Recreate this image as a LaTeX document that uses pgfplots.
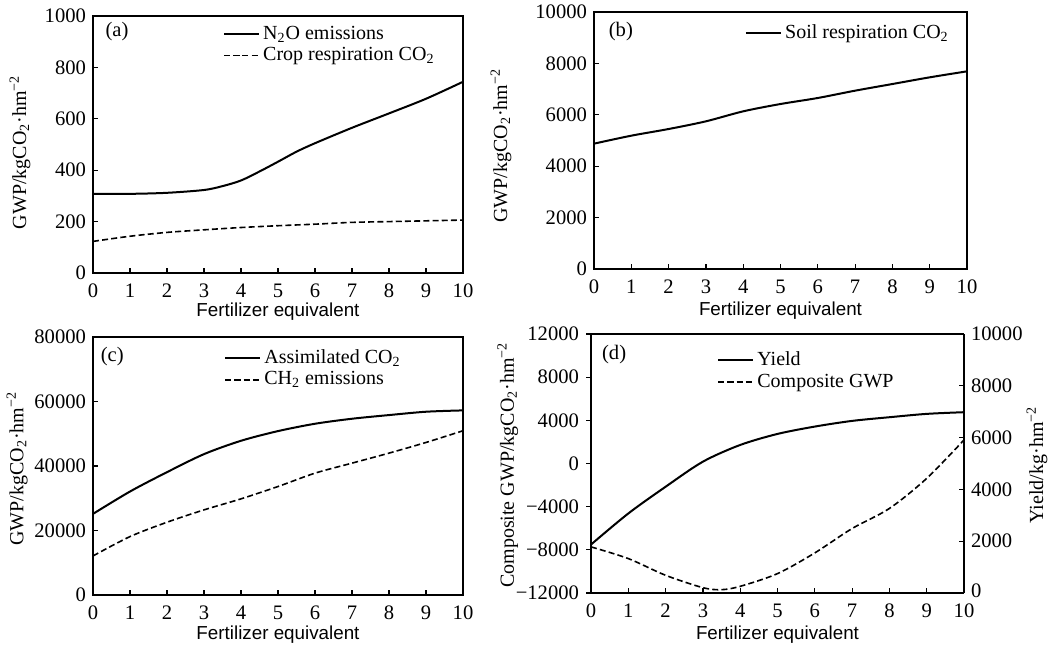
\documentclass[border=0pt]{standalone}
\usepackage{fontspec}
\setmainfont{Liberation Serif}
\newfontfamily\sansf{Liberation Sans}
\usepackage{pgfplots}
\pgfplotsset{compat=1.18}
\pgfplotsset{
  base/.style={
    scale only axis, xmin=0, xmax=10, xtick={0,...,10},
    tick align=inside, xtick pos=bottom, ytick pos=left,
    major tick length=2.5pt,
    /pgf/number format/assume math mode=true,
    /pgf/number format/1000 sep={},
    scaled y ticks=false,
    tick label style={font=\fontsize{10.3}{12}\selectfont},
    xticklabel style={yshift=-2pt},
    xlabel={Fertilizer equivalent},
    axis line style={line width=0.7pt},
    every tick/.style={black, line width=0.6pt},
    legend style={draw=none, fill=none, font=\fontsize{10}{11.5}\selectfont, inner sep=1pt, row sep=-1.5pt,
      /tikz/every even column/.append style={column sep=1pt}},
    legend cell align=left,
  },
  xlab/.style={xlabel style={font=\sansf\fontsize{9.4}{11}\selectfont, at={(axis description cs:0.5,#1)}, anchor=center}},
  ylab/.style 2 args={ylabel style={font=\fontsize{10}{12}\selectfont, at={(axis description cs:#1,#2)}, anchor=center, rotate=0}},
  sol/.style={black, line width=1pt, smooth},
  das/.style={black, line width=0.8pt, dash pattern=on 3pt off 1.6pt, smooth},
}
\begin{document}
\begin{tikzpicture}
\path[use as bounding box] (0,0) rectangle (526pt,-323pt);
% (a)
\begin{axis}[base, at={(46.5pt,-136.5pt)}, anchor=south west, width=185pt, height=128.5pt,
  ymin=0, ymax=1000, ytick={0,200,...,1000}, xlab=-0.152, ylab={-0.197}{0.47},
  ylabel={GWP/kgCO\textsubscript{2}·hm\textsuperscript{−2}},
  legend style={at={(0.345,0.985)}, anchor=north west}]
\addplot[sol] coordinates {(0,308) (1,308) (2,312) (3,323) (3.5,338) (4,360) (4.5,395) (5,433) (5.5,472) (6,505) (7,565) (8,621) (9,678) (10,744)};
\addlegendentry{N\textsubscript{2}O emissions}
\addplot[das] coordinates {(0,123) (1,143) (2,158) (3,168) (4,177) (5,184) (6,190) (7,197) (8,200) (9,203) (10,206)};
\addlegendentry{Crop respiration CO\textsubscript{2}}
\node[font=\fontsize{10.3}{12}\selectfont] at (axis description cs:0.065,0.94) {(a)};
\end{axis}
% (b)
\begin{axis}[base, at={(297pt,-134.5pt)}, anchor=south west, width=186.5pt, height=128.5pt,
  ymin=0, ymax=10000, ytick={0,2000,...,10000}, xlab=-0.163, ylab={-0.249}{0.48},
  ylabel={GWP/kgCO\textsubscript{2}·hm\textsuperscript{−2}},
  legend style={at={(0.968,0.975)}, anchor=north east}]
\addplot[sol] coordinates {(0,4877) (1,5188) (2,5447) (3,5746) (4,6135) (5,6420) (6,6654) (7,6939) (8,7198) (9,7458) (10,7691)};
\addlegendentry{Soil respiration CO\textsubscript{2}}
\node[font=\fontsize{10.3}{12}\selectfont] at (axis description cs:0.072,0.922) {(b)};
\end{axis}
% (c)
\begin{axis}[base, at={(46.5pt,-297.5pt)}, anchor=south west, width=185pt, height=129pt,
  ymin=0, ymax=80000, ytick={0,20000,...,80000}, xlab=-0.155, ylab={-0.205}{0.49},
  ylabel={GWP/kgCO\textsubscript{2}·hm\textsuperscript{−2}},
  legend style={at={(0.348,0.975)}, anchor=north west}]
\addplot[sol] coordinates {(0,25155) (1,32090) (2,38095) (3,43685) (4,47826) (5,50828) (6,53106) (7,54658) (8,55797) (9,56832) (10,57246)};
\addlegendentry{Assimilated CO\textsubscript{2}}
\addplot[das] coordinates {(0,12112) (1,18116) (2,22567) (3,26398) (4,29814) (5,33644) (6,37785) (7,40890) (8,43996) (9,47308) (10,50932)};
\addlegendentry{CH\textsubscript{2} emissions}
\node[font=\fontsize{10.3}{12}\selectfont] at (axis description cs:0.052,0.926) {(c)};
\end{axis}
% (d) left axis
\begin{axis}[base, at={(295.5pt,-296.5pt)}, anchor=south west, width=186.5pt, height=129.5pt,
  axis y line*=left, tick align=outside, xtick align=inside,
  ymin=-12000, ymax=12000, ytick={-12000,-8000,-4000,0,4000,8000,12000},
  yticklabels={−12000,−8000,−4000,0,4000,8000,12000},
  xlab=-0.162, ylab={-0.223}{0.494},
  ylabel={Composite GWP/kgCO\textsubscript{2}·hm\textsuperscript{−2}}]
\addplot[das] coordinates {(0,-7726) (1,-8810) (2,-10359) (3,-11505) (3.5,-11690) (4,-11381) (5,-10204) (6,-8284) (7,-6023) (8,-4165) (9,-1378) (10,2183)};
\node[font=\fontsize{10.3}{12}\selectfont] at (axis description cs:0.062,0.919) {(d)};
\end{axis}
% (d) right axis
\begin{axis}[base, at={(295.5pt,-296.5pt)}, anchor=south west, width=186.5pt, height=129.5pt,
  axis x line=none, axis y line*=right, ytick pos=right, xlabel={},
  ymin=0, ymax=10000, ytick={0,2000,...,10000},
  yticklabels={\raisebox{2.5pt}{0},2000,4000,6000,8000,10000},
  ylab={1.196}{0.494}, ylabel={Yield/kg·hm\textsuperscript{−2}},
  legend style={at={(0.332,0.955)}, anchor=north west}]
\addplot[sol] coordinates {(0,1871) (1,3071) (2,4103) (3,5071) (4,5716) (5,6142) (6,6426) (7,6645) (8,6787) (9,6916) (10,6981)};
\addlegendentry{Yield}
\addlegendimage{das}
\addlegendentry{Composite GWP}
\end{axis}
\end{tikzpicture}
\end{document}
